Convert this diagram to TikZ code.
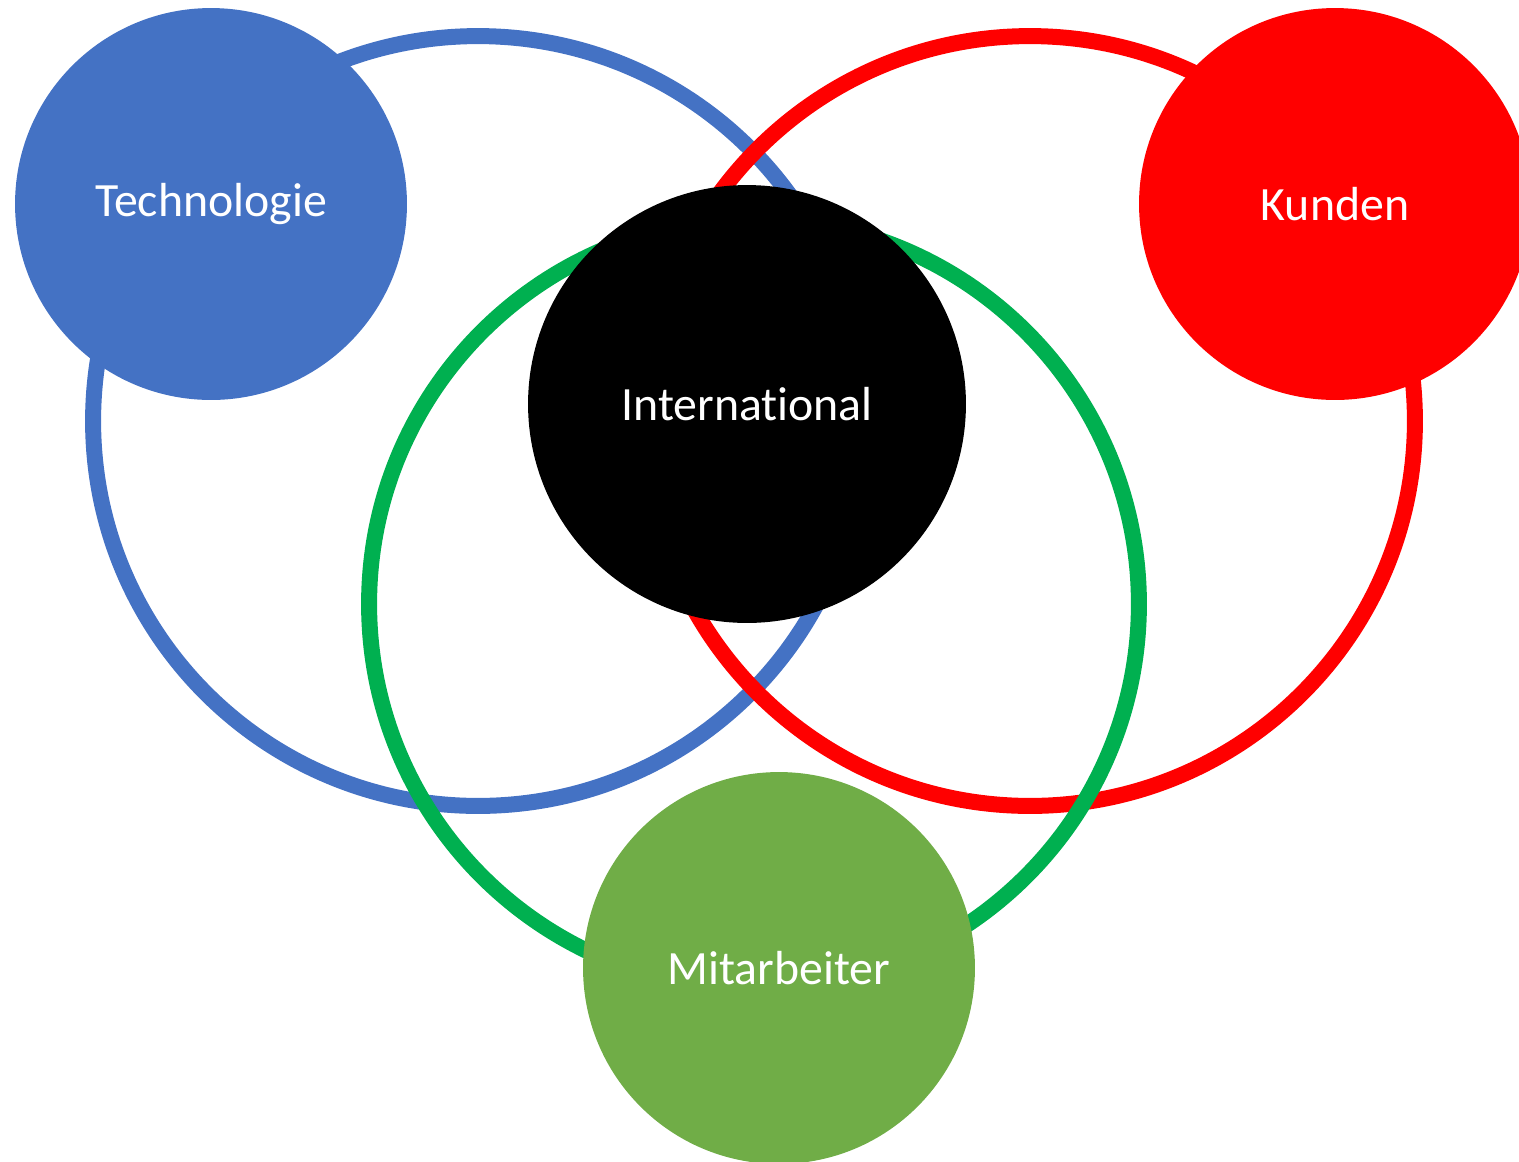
\documentclass[tikz,border=0pt]{standalone}
\usepackage{fontspec}
\setmainfont{Carlito}[Ligatures=NoCommon]
\usepackage{tikz}

\definecolor{techblue}{HTML}{4472C4}
\definecolor{kundred}{HTML}{FF0000}
\definecolor{ringgreen}{HTML}{00B050}
\definecolor{staffgreen}{HTML}{70AD47}

\begin{document}
\begin{tikzpicture}[x=0.02cm,y=-0.02cm,
	ring/.style={shape=circle,draw,line width=0.32cm,inner sep=0pt,minimum size=15.4cm},
	disc/.style={shape=circle,draw=none,inner sep=0pt,minimum size=7.84cm,text=white,font=\fontsize{27.2}{32}\selectfont},]
		\useasboundingbox (0,0) rectangle (1519,1161);
		% create the rings
		\node (techring) [ring,draw=techblue] at (478,421) {};
		\node (kundring) [ring,draw=kundred] at (1030,421) {};
		\node (staffring) [ring,draw=ringgreen] at (754,604) {};
		
		% create the discs
		\node (tech) [disc,fill=techblue] at (211,204) {Technologie};
		\node (kunden) [disc,fill=kundred] at (1335,204) {Kunden};
		\node (intl) [disc,fill=black,minimum size=8.76cm] at (747,404) {International};
		\node (staff) [disc,fill=staffgreen] at (779,968) {Mitarbeiter};
		
	\end{tikzpicture}
\end{document}
